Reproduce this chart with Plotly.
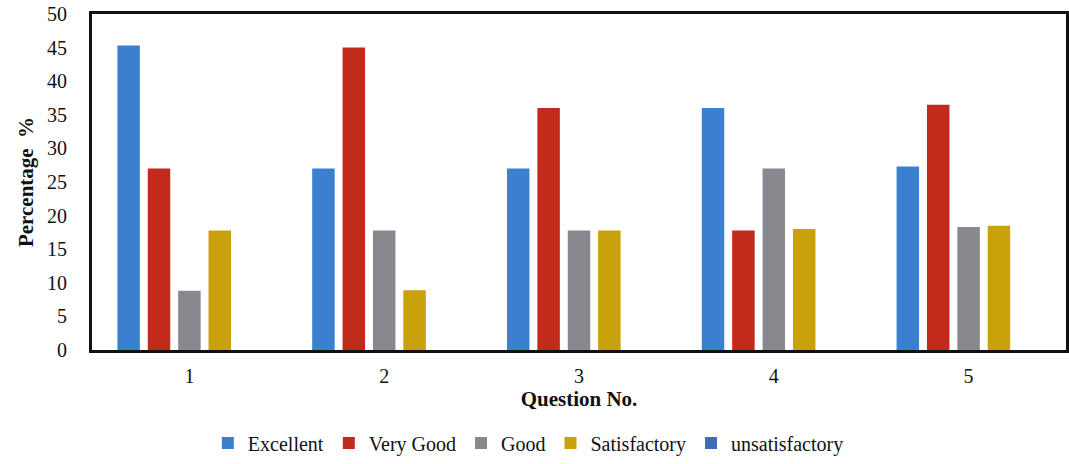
import plotly.graph_objects as go

questions = ["1", "2", "3", "4", "5"]
series_names = ["Excellent", "Very Good", "Good", "Satisfactory", "unsatisfactory"]
excellent = [45.3, 27.0, 27.0, 36.0, 27.3]
very_good = [27.0, 45.0, 36.0, 17.8, 36.5]
good = [8.8, 17.8, 17.8, 27.0, 18.3]
satisfactory = [17.8, 8.9, 17.8, 18.0, 18.5]
unsatisfactory = [0, 0, 0, 0, 0]
y_ticks = [0, 5, 10, 15, 20, 25, 30, 35, 40, 45, 50]

values = [excellent, very_good, good, satisfactory, unsatisfactory]
colors = ["#3b80cf", "#c22a1c", "#88898f", "#c9a10a", "#3e6db3"]

fig = go.Figure()
for name, vals, col in zip(series_names, values, colors):
    fig.add_trace(go.Bar(x=questions, y=vals, name=name, marker_color=col,
                         marker_line_width=0))

serif = "Liberation Serif"
fig.update_layout(
    width=1069, height=464,
    margin=dict(l=92, r=3, t=14, b=114, autoexpand=False),
    plot_bgcolor="white", paper_bgcolor="white",
    barmode="group", bargap=0.22, bargroupgap=0.26,
    font=dict(family=serif, size=20, color="#111"),
    legend=dict(orientation="h", x=0.448, xanchor="center", y=-0.277, yanchor="middle",
                font=dict(family=serif, size=20, color="#111"), itemwidth=30,
                traceorder="normal"),
    xaxis=dict(title=dict(text="<b>Question No.</b>", font=dict(family=serif, size=21), standoff=6),
               showline=True, linecolor="#111", linewidth=3, mirror=True,
               ticks="", tickfont=dict(family=serif, size=20), ticklabelstandoff=6, automargin=False),
    yaxis=dict(title=dict(text="<b>Percentage  %</b>", font=dict(family=serif, size=21), standoff=8),
               range=[0, 50], tickvals=y_ticks, showgrid=False,
               showline=True, linecolor="#111", linewidth=3, mirror=True,
               ticks="", tickfont=dict(family=serif, size=20), zeroline=False,
               ticklabelstandoff=18, ticklabeloverflow="allow", automargin=False),
)

fig.write_html("out.html", config={"displayModeBar": False},
               post_script="document.body.style.margin='0';document.body.style.overflow='hidden';")
